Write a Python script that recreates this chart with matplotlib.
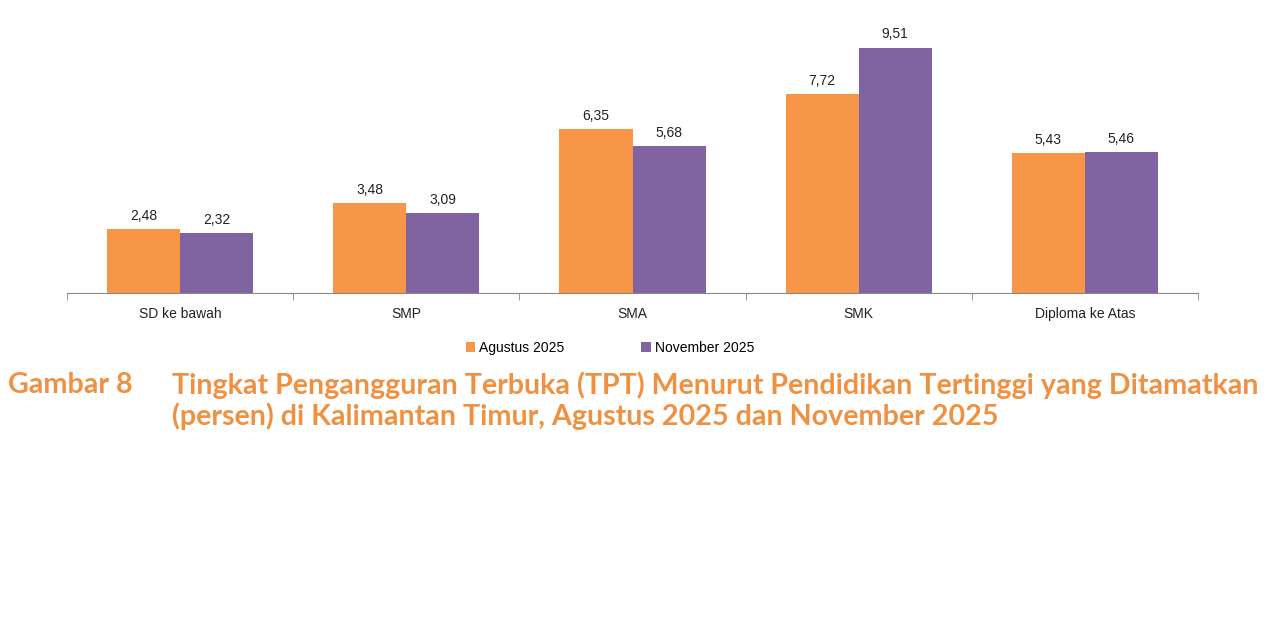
import numpy as np
import matplotlib.pyplot as plt

# Tingkat Pengangguran Terbuka menurut pendidikan, Kalimantan Timur
categories = ["SD ke bawah", "SMP", "SMA", "SMK", "Diploma ke Atas"]
agustus_2025 = [2.48, 3.48, 6.35, 7.72, 5.43]
november_2025 = [2.32, 3.09, 5.68, 9.51, 5.46]
series_names = ["Agustus 2025", "November 2025"]

orange = "#F79646"
purple = "#8064A2"
caption_color = "#EF9140"

plt.rcParams["font.family"] = ["Liberation Sans", "DejaVu Sans"]

fig = plt.figure(figsize=(12.8, 6.19), dpi=100)
ax = fig.add_axes([67/1280, 1 - 293/619, (1198 - 67)/1280, 258/619])

x = np.arange(len(categories))
w = 0.323
b1 = ax.bar(x - w/2, agustus_2025, w, color=orange, label=series_names[0])
b2 = ax.bar(x + w/2, november_2025, w, color=purple, label=series_names[1])

for bars, vals in [(b1, agustus_2025), (b2, november_2025)]:
    for rect, v in zip(bars, vals):
        ax.annotate(f"{v:.2f}".replace(".", ","),
                    (rect.get_x() + rect.get_width()/2, rect.get_height()),
                    xytext=(0, 4.5), textcoords="offset points",
                    ha="center", va="bottom", fontsize=10, color="#222222")

ax.set_xlim(-0.5, len(categories) - 0.5)
ax.set_ylim(0, 10)
ax.set_xticks(x)
ax.set_xticklabels(categories, fontsize=10, color="#222222")
ax.set_xticks(np.arange(-0.5, len(categories)), minor=True)
ax.tick_params(axis="x", which="major", length=0, pad=10)
ax.tick_params(axis="x", which="minor", length=5, color="#888888")
ax.set_yticks([])
for s in ["top", "right", "left"]:
    ax.spines[s].set_visible(False)
ax.spines["bottom"].set_color("#888888")

fig.legend(handles=[b1, b2], labels=series_names, loc="center",
           bbox_to_anchor=(610/1280, 1 - 348/619), ncol=2, frameon=False,
           fontsize=10, handlelength=0.7, handleheight=0.7, handletextpad=0.3,
           columnspacing=5.5)

cap_font = ["Lato", "DejaVu Sans"]
cap_size = 20.6
fig.text(8/1280, 1 - 385/619, "Gambar 8", fontsize=cap_size, fontweight="bold",
         color=caption_color, family=cap_font, va="center")
fig.text(172/1280, 1 - 385/619,
         "Tingkat Pengangguran Terbuka (TPT) Menurut Pendidikan Tertinggi yang Ditamatkan",
         fontsize=cap_size, fontweight="bold", color=caption_color, family=cap_font, va="center")
fig.text(172/1280, 1 - 416/619,
         "(persen) di Kalimantan Timur, Agustus 2025 dan November 2025",
         fontsize=cap_size, fontweight="bold", color=caption_color, family=cap_font, va="center")

fig.savefig("out.png", dpi=100, facecolor="white")
